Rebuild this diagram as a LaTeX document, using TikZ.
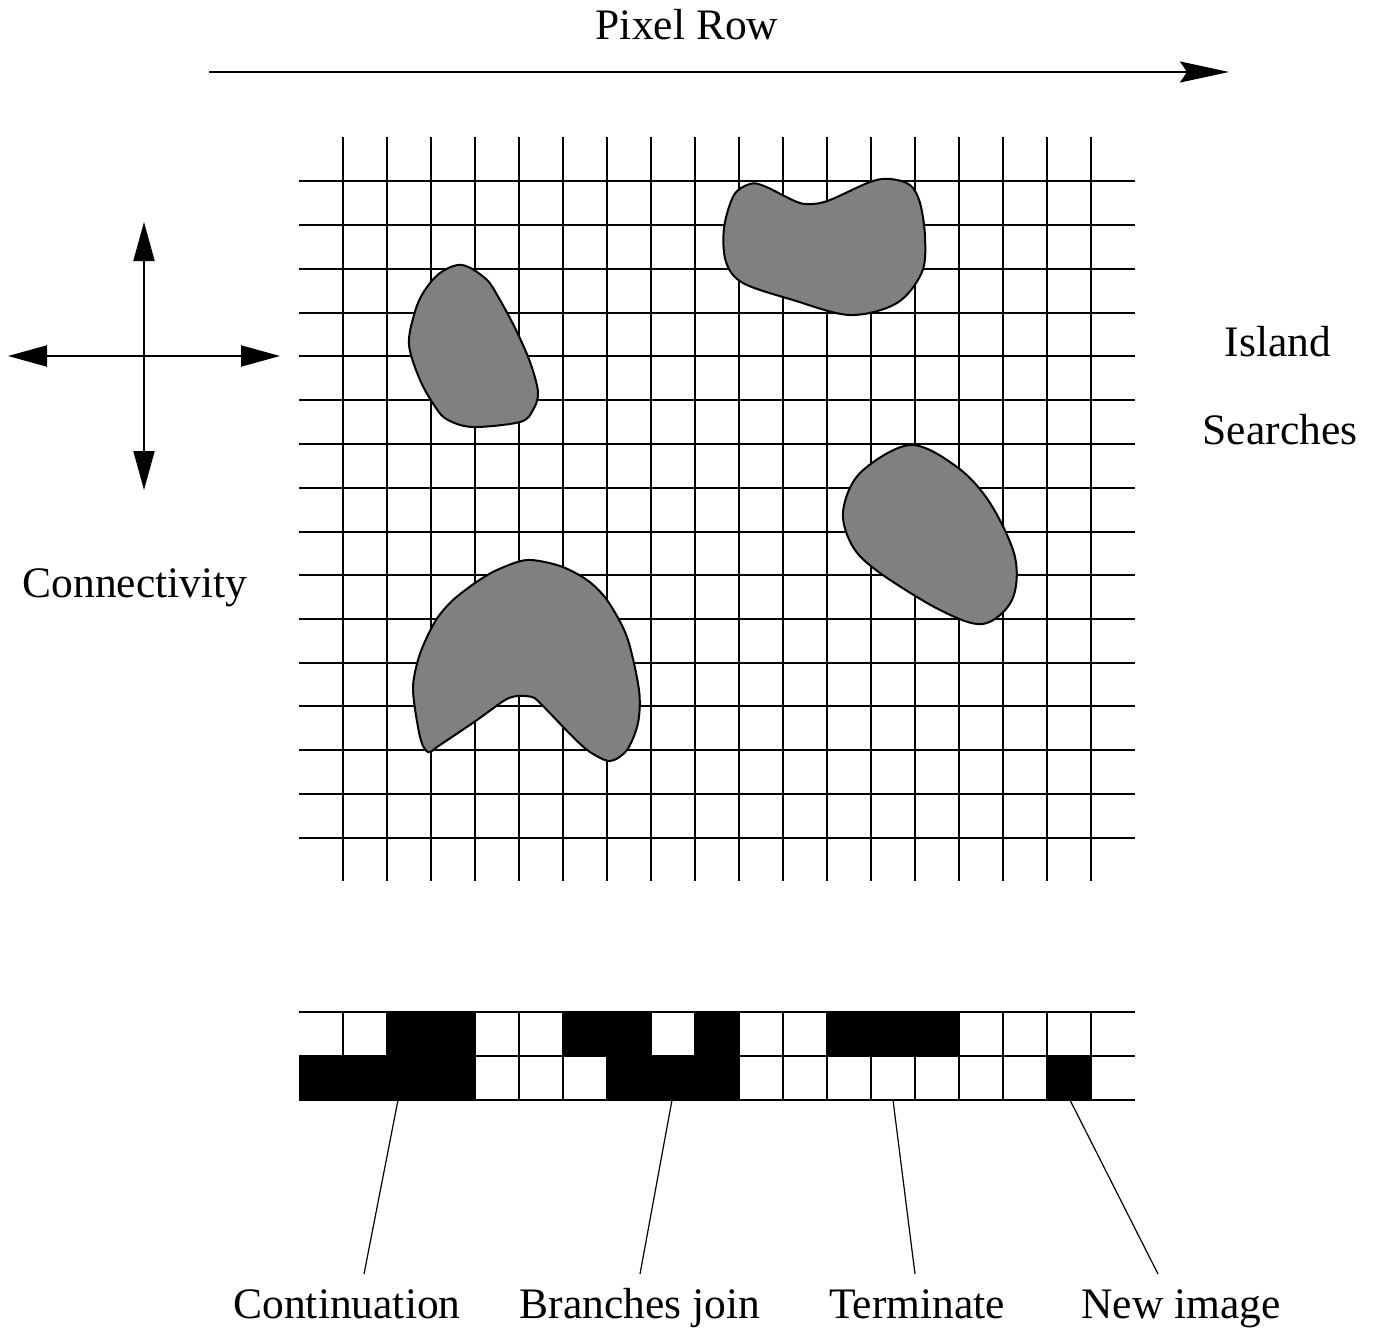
\documentclass[tikz,border=0pt]{standalone}
\usepackage{fontspec}
\setmainfont{Liberation Serif}
\usetikzlibrary{arrows.meta}
\definecolor{blobgray}{RGB}{128,128,128}
\begin{document}
\begin{tikzpicture}[x=1pt,y=-1pt,
  lbl/.style={font=\fontsize{43.5}{50}\selectfont, inner sep=0pt, anchor=base},
  gridline/.style={line width=1.2pt, black},
  blob/.style={draw=black, fill=blobgray, line width=2pt},
  leader/.style={line width=1.2pt},
  rowarrow/.style={line width=2.5pt, -{Stealth[length=49pt,width=21pt,inset=7pt]}},
  crossarrow/.style={line width=2pt, {Triangle[length=39pt,width=21pt]}-{Triangle[length=39pt,width=21pt]}}
]
\useasboundingbox (0,0) rectangle (1380,1332);

% title arrow
\node[lbl] (pixelrow) at (687,39.5) {Pixel Row};
\coordinate (prA) at (209,72);
\coordinate (prB) at (1229,72);
\draw[rowarrow] (prA) -- (prB);

% connectivity cross
\coordinate (cT) at (144,222);
\coordinate (cB) at (144,490);
\coordinate (cL) at (8,356);
\coordinate (cR) at (280,356);
\draw[crossarrow] (cT) -- (cB);
\draw[crossarrow] (cL) -- (cR);
\node[lbl] (conn) at (135,597) {Connectivity};

% side labels
\node[lbl] (island) at (1278,356) {Island};
\node[lbl] (searches) at (1280,444) {Searches};

% main grid
\foreach \i in {0,...,17} {
  \draw[gridline] ({343+44*\i},137) -- ({343+44*\i},881);
}
\foreach \y in {181,225,269,313,356,400,444,488,532,575,619,663,706,750,794,838} {
  \draw[gridline] (299,\y) -- (1135,\y);
}

% islands
\draw[blob] plot[smooth cycle, tension=0.55] coordinates {
  (462,265) (486,279) (500,300) (516,330) (530,362) (538,392) (533,410) (520,422) (473,427) (448,420) (436,408) (420,380) (409,345) (414,315) (423,293) (440,273)};
\draw[blob] plot[smooth cycle, tension=0.55] coordinates {
  (750,184) (764,186) (797,202) (812,204) (830,200) (870,182) (890,179) (910,185) (920,203) (925,237) (922,272) (897,303) (850,315) (793,300) (743,283) (726,262) (724,228) (734,195)};
\draw[blob] plot[smooth cycle, tension=0.55] coordinates {
  (910,445) (957,467) (990,503) (1015,557) (1012,600) (983,624) (940,610) (880,573) (853,547) (843,512) (860,473)};
\draw[blob] plot[smooth cycle, tension=0.5] coordinates {
  (527,560) (560,566) (587,580) (607,600) (627,637) (639,690) (638,723) (627,750) (610,761) (590,752) (573,737) (540,703) (532,697) (518,696) (505,700) (477,720) (440,745) (428,752) (420,737) (413,690) (418,660) (427,637) (438,617) (453,600) (475,583) (497,570)};

% bottom strip
\foreach \k in {2,3,6,7,9,12,13,14} {
  \fill[black] ({299+44*\k},1012) rectangle ({343+44*\k},1056);
}
\foreach \k in {0,1,2,3,7,8,9,17} {
  \fill[black] ({299+44*\k},1056) rectangle ({343+44*\k},1100);
}
\foreach \y in {1012,1056,1100} {
  \draw[gridline] (299,\y) -- (1135,\y);
}
\foreach \i in {0,...,17} {
  \draw[gridline] ({343+44*\i},1012) -- ({343+44*\i},1100);
}

% labels and leaders
\node[lbl] (cont) at (347,1318) {Continuation};
\node[lbl] (branch) at (640,1318) {Branches join};
\node[lbl] (term) at (917,1318) {Terminate};
\node[lbl] (newimg) at (1181,1318) {New image};

\coordinate (l1a) at (398,1100); \coordinate (l1b) at (364,1274);
\coordinate (l2a) at (672,1100); \coordinate (l2b) at (640,1274);
\coordinate (l3a) at (893,1100); \coordinate (l3b) at (915,1274);
\coordinate (l4a) at (1070,1100); \coordinate (l4b) at (1158,1274);
\draw[leader] (l1a) -- (l1b);
\draw[leader] (l2a) -- (l2b);
\draw[leader] (l3a) -- (l3b);
\draw[leader] (l4a) -- (l4b);
\end{tikzpicture}
\end{document}
